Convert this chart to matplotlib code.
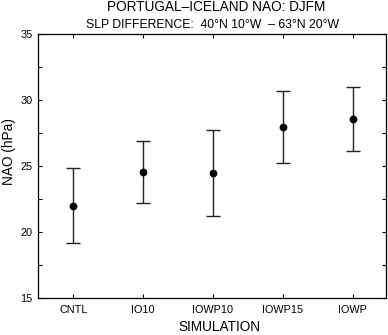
import numpy as np
import matplotlib
matplotlib.use("Agg")
import matplotlib.pyplot as plt
from matplotlib.ticker import MultipleLocator

plt.rcParams['font.family'] = ['Liberation Sans', 'DejaVu Sans']

# NAO index per simulation
simulations = ['CNTL', 'IO10', 'IOWP10', 'IOWP15', 'IOWP']
nao_mean = [22.0, 24.55, 24.45, 27.98, 28.55]
nao_upper = [24.83, 26.9, 27.73, 30.72, 30.95]
nao_lower = [19.15, 22.22, 21.19, 25.24, 26.17]

x = np.arange(1, len(simulations) + 1)
mean = np.array(nao_mean)
err = [mean - np.array(nao_lower), np.array(nao_upper) - mean]

fig = plt.figure(figsize=(3.88, 3.35), dpi=100)
ax = fig.add_axes([0.099, 0.110, 0.896, 0.7885])

ax.errorbar(x, mean, yerr=err, fmt='o', color='black', ecolor='#222222',
            elinewidth=1.0, capsize=4.8, capthick=1.0, markersize=4.6)

ax.set_xlim(0.5, 5.48)
ax.set_ylim(15, 35)
ax.set_xticks(x)
ax.set_xticklabels(simulations)
ax.yaxis.set_major_locator(MultipleLocator(5))
ax.yaxis.set_minor_locator(MultipleLocator(2.5))
ax.tick_params(which='both', direction='in', top=True, right=True,
               length=3, width=0.8, labelsize=7.8)
ax.tick_params(axis='y', pad=4)
ax.tick_params(axis='x', pad=5)
for s in ax.spines.values():
    s.set_linewidth(0.9)

fig.text(0.556, 0.967, 'PORTUGAL\u2013ICELAND NAO: DJFM', ha='center',
         va='baseline', fontsize=9.8)
fig.text(0.549, 0.916, 'SLP DIFFERENCE:  40\u00b0N 10\u00b0W  \u2013 63\u00b0N 20\u00b0W',
         ha='center', va='baseline', fontsize=8.8)
fig.text(0.566, 0.012, 'SIMULATION', ha='center', va='baseline', fontsize=9.8)
fig.text(0.024, 0.548, 'NAO (hPa)', ha='center', va='center',
         rotation=90, fontsize=9.8)

fig.savefig('out.png', dpi=100)
